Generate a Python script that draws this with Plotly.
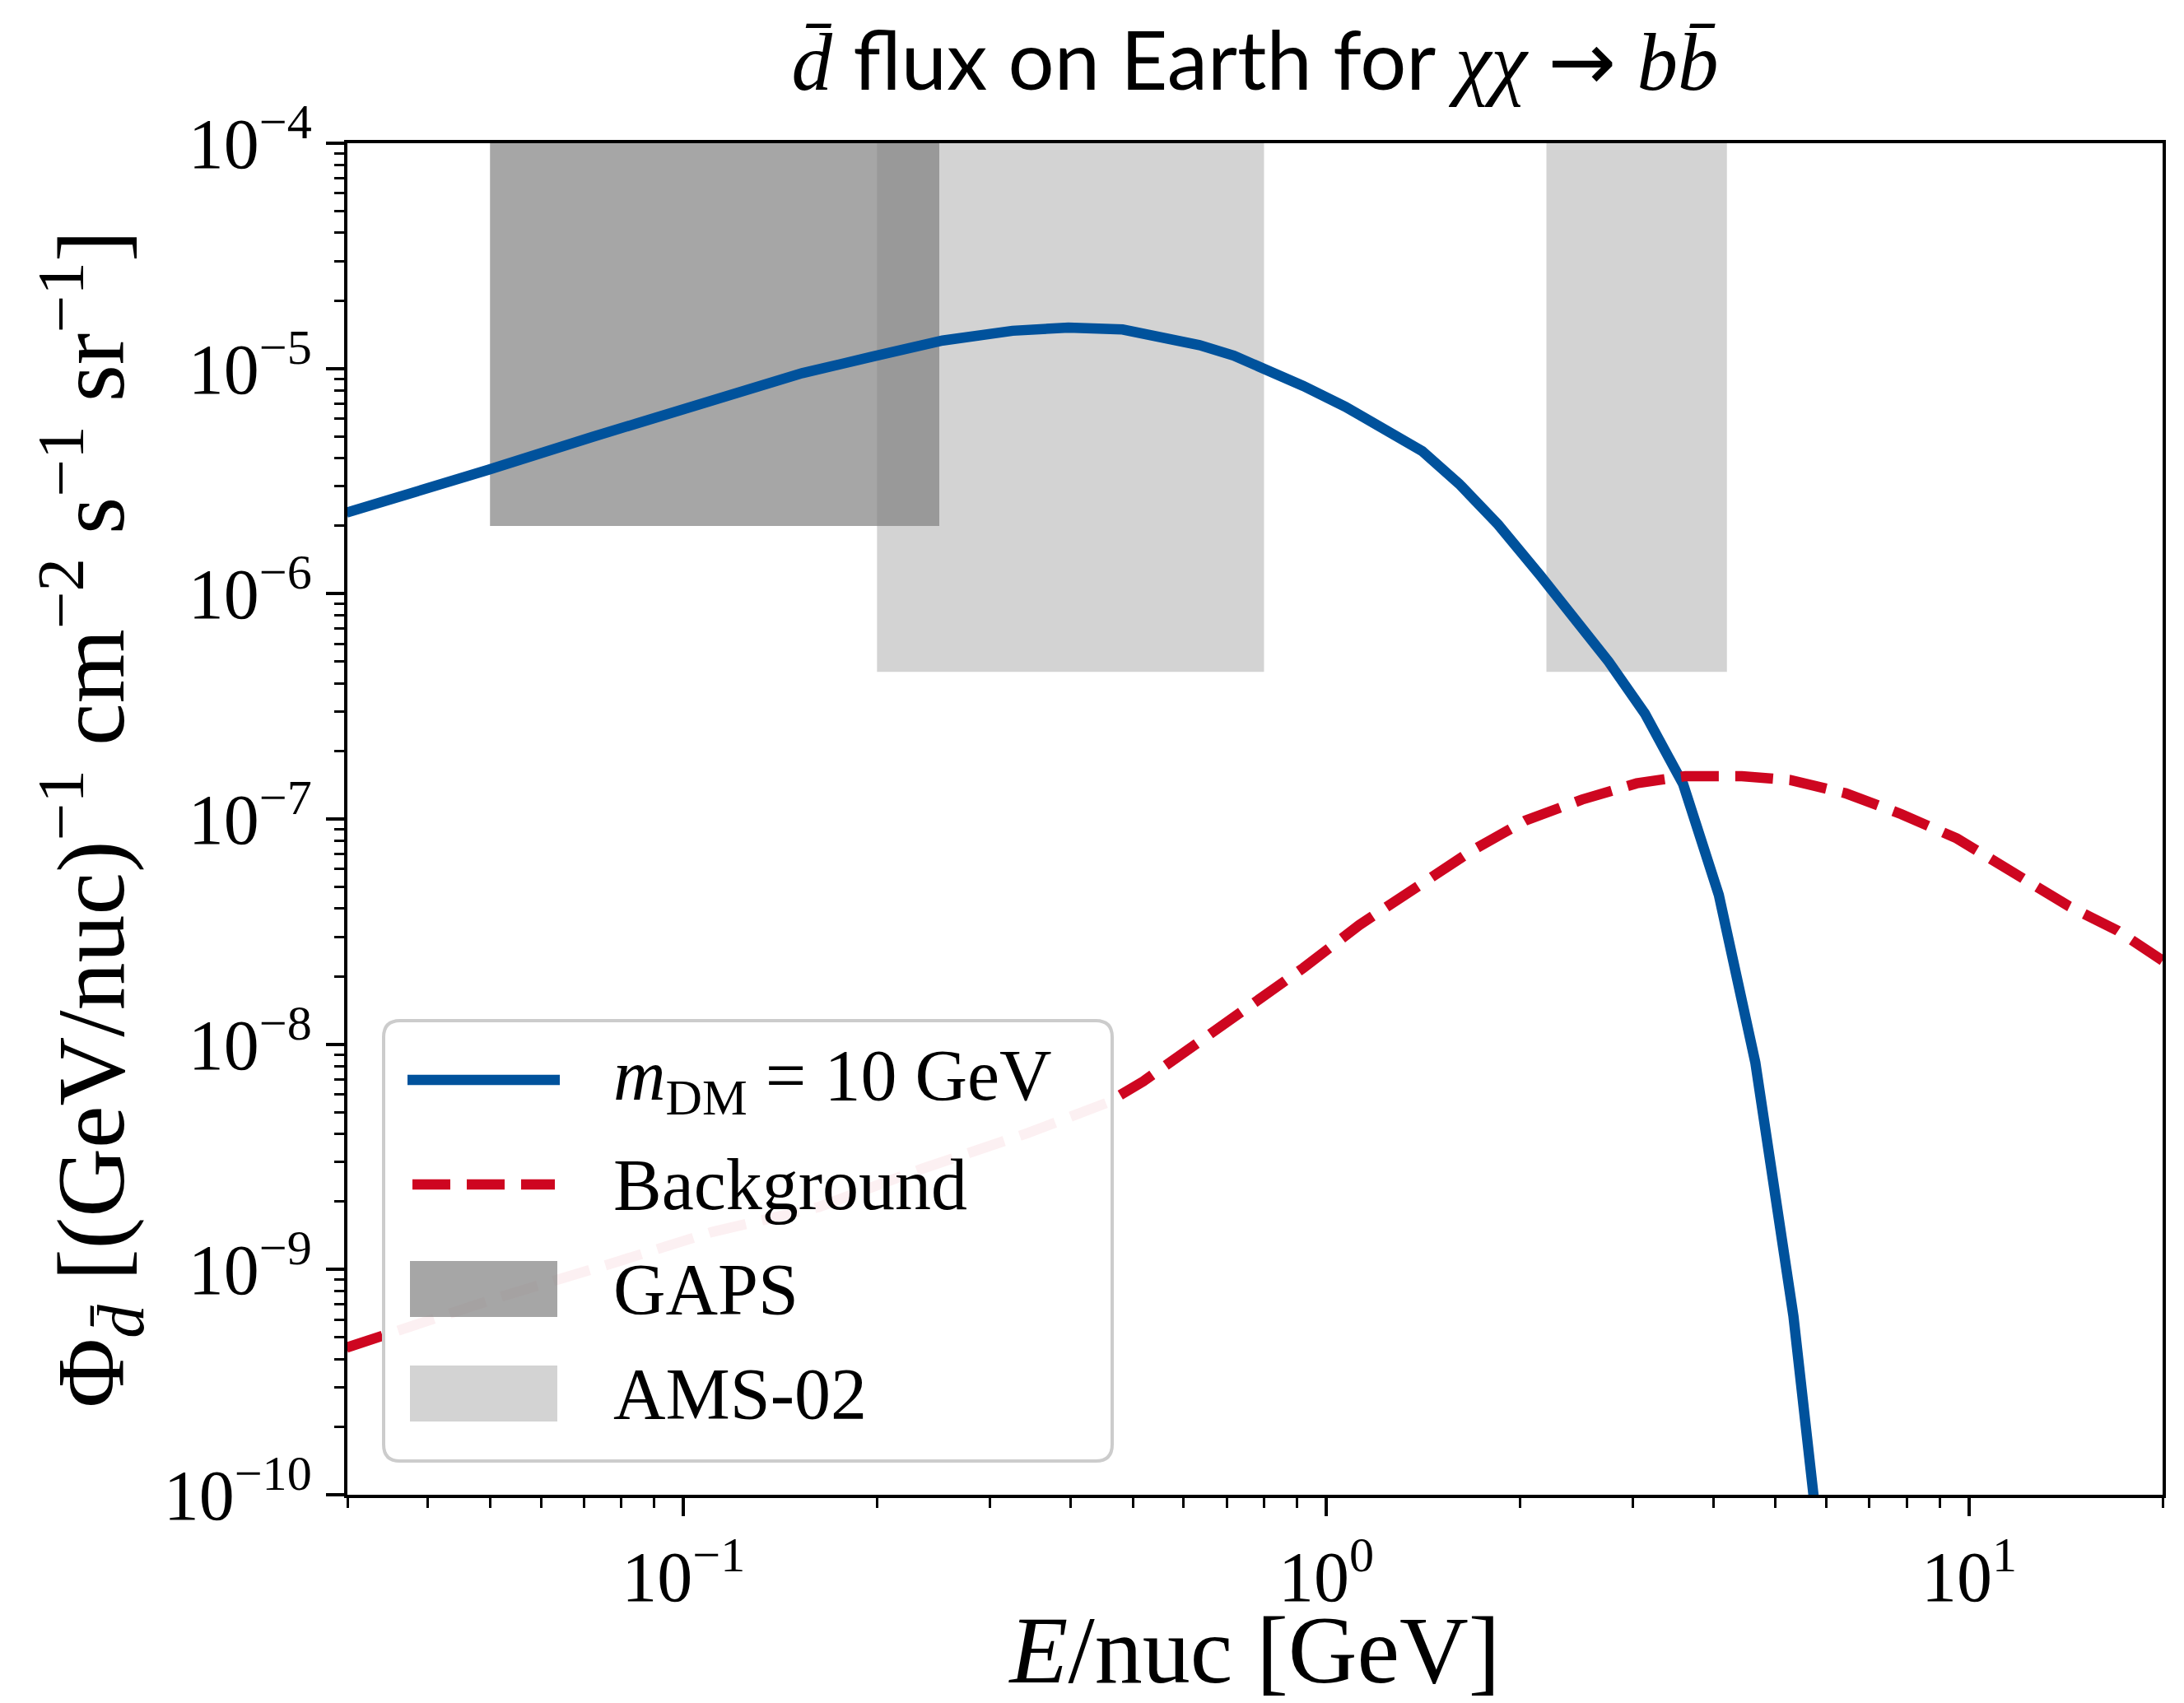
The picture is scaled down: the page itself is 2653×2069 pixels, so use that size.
import numpy as np
import plotly.graph_objects as go

# ---------------- data ----------------
E_dm = [0.0299, 0.0341, 0.0497, 0.0722, 0.105, 0.153, 0.197, 0.253, 0.325, 0.397,
        0.482, 0.559, 0.635, 0.718, 0.813, 0.921, 1.07, 1.21, 1.41, 1.61,
        1.85, 2.15, 2.43, 2.75, 3.13, 3.59, 4.08, 4.65, 5.33, 6.1]
flux_dm = [2.29e-6, 2.55e-6, 3.55e-6, 4.97e-6, 6.95e-6, 9.53e-6, 1.13e-5, 1.33e-5, 1.47e-5, 1.52e-5,
           1.49e-5, 1.38e-5, 1.27e-5, 1.14e-5, 9.9e-6, 8.36e-6, 6.77e-6, 5.53e-6, 4.3e-6, 3.07e-6,
           2.03e-6, 1.21e-6, 7.9e-7, 4.99e-7, 2.94e-7, 1.43e-7, 4.6e-8, 8.3e-9, 6.2e-10, 2.0e-11]

E_bg = [0.0299, 0.0359, 0.0522, 0.0762, 0.111, 0.162, 0.235, 0.343, 0.456, 0.519,
        0.634, 0.774, 0.921, 1.125, 1.37, 1.68, 2.04, 2.50, 3.04, 3.62,
        4.43, 5.27, 6.43, 7.85, 9.57, 11.7, 14.3, 17.0, 20.0]
flux_bg = [4.5e-10, 5.35e-10, 7.6e-10, 1.05e-9, 1.47e-9, 1.89e-9, 2.8e-9, 4.03e-9, 5.5e-9, 6.84e-9,
           1.03e-8, 1.50e-8, 2.18e-8, 3.38e-8, 4.93e-8, 7.2e-8, 9.84e-8, 1.22e-7, 1.44e-7, 1.55e-7,
           1.55e-7, 1.49e-7, 1.30e-7, 1.05e-7, 8.2e-8, 5.8e-8, 4.1e-8, 3.2e-8, 2.35e-8]

# experimental sensitivity regions: (E_min, E_max) and (flux_min, flux_max)
gaps_E = [0.05, 0.25]
gaps_flux = [2.0e-6, 1.0e-4]
ams_E = [[0.2, 0.8], [2.2, 4.2]]
ams_flux = [4.5e-7, 1.0e-4]

legend_labels = ["<i>m</i><sub>DM</sub> = 10 GeV", "Background", "GAPS", "AMS-02"]

x_range = [0.03, 20.0]
y_range = [1e-10, 1e-4]

x_tickvals = [0.1, 1, 10]
x_ticktext = ["10<sup>\u22121</sup>", "10<sup>0</sup>", "10<sup>1</sup>"]
y_tickvals = [1e-10, 1e-9, 1e-8, 1e-7, 1e-6, 1e-5, 1e-4]
y_ticktext = ["10<sup>\u2212%d</sup>" % k for k in [10, 9, 8, 7, 6, 5, 4]]

x_minor = [m * 10.0 ** d for d in range(-2, 2) for m in range(2, 10)]
x_minor = [v for v in x_minor if x_range[0] * 0.999 <= v <= x_range[1] * 1.001]
y_minor = [m * 10.0 ** d for d in range(-10, -4) for m in range(2, 10)]

BLUE = "#00529c"
RED = "#ce0620"
GAPS_C = "rgba(128,128,128,0.70)"
AMS_C = "rgba(128,128,128,0.35)"
SERIF = "Liberation Serif"
SANS = "Lato"
W, H = 2653, 2069
ML, MR, MT, MB = 422, 26, 174, 253
PW, PH = W - ML - MR, H - MT - MB


def box(e, f):
    return [e[0], e[1], e[1], e[0], e[0]], [f[0], f[0], f[1], f[1], f[0]]


# pixel -> paper helpers (for the legend furniture only)
def px(xp):
    return (xp - ML) / PW


def py(yp):
    return (H - MB - yp) / PH


fig = go.Figure()

for e in ams_E:
    bx, by = box(e, ams_flux)
    fig.add_trace(go.Scatter(x=bx, y=by, mode="lines", fill="toself", fillcolor=AMS_C,
                             line=dict(width=0), showlegend=False, hoverinfo="skip"))
bx, by = box(gaps_E, gaps_flux)
fig.add_trace(go.Scatter(x=bx, y=by, mode="lines", fill="toself", fillcolor=GAPS_C,
                         line=dict(width=0), showlegend=False, hoverinfo="skip"))

fig.add_trace(go.Scatter(x=E_dm, y=flux_dm, mode="lines", line=dict(color=BLUE, width=12.5),
                         name=legend_labels[0], showlegend=False))
fig.add_trace(go.Scatter(x=E_bg, y=flux_bg, mode="lines",
                         line=dict(color=RED, width=12.5, dash="46px,20px"),
                         name=legend_labels[1], showlegend=False))

axis_common = dict(
    type="log", showline=True, linewidth=4, linecolor="black", mirror=True,
    ticks="outside", ticklen=22, tickwidth=4, tickcolor="black",
    tickmode="array", showgrid=False, zeroline=False,
    tickfont=dict(family=SERIF, size=86, color="black"),
)

fig.update_xaxes(
    **axis_common,
    range=[np.log10(x_range[0]), np.log10(x_range[1])],
    tickvals=x_tickvals, ticktext=x_ticktext,
    minor=dict(tickmode="array", tickvals=x_minor, ticks="outside", ticklen=12,
               tickwidth=3, tickcolor="black", showgrid=False),
    title=dict(text="<i>E</i>/nuc [GeV]", font=dict(family=SERIF, size=116, color="black"),
               standoff=12),
)
fig.update_yaxes(
    **axis_common,
    range=[np.log10(y_range[0]), np.log10(y_range[1])],
    tickvals=y_tickvals, ticktext=y_ticktext,
    minor=dict(tickmode="array", tickvals=y_minor, ticks="outside", ticklen=12,
               tickwidth=3, tickcolor="black", showgrid=False),
    title=dict(text="\u03a6<sub><i>d\u0304</i></sub> [(GeV/nuc)<sup>\u22121</sup> cm<sup>\u22122</sup> "
                    "s<sup>\u22121</sup> sr<sup>\u22121</sup>]",
               font=dict(family=SERIF, size=116, color="black"), standoff=10),
)

# ---------------- legend (drawn as furniture: box, swatches, labels) ----------------
x0, x1, y0, y1 = px(466), px(1351), py(1775), py(1240)
rx, ry = 20 / PW, 20 / PH
legend_path = (f"M{x0+rx},{y1} L{x1-rx},{y1} Q{x1},{y1} {x1},{y1-ry} L{x1},{y0+ry} "
               f"Q{x1},{y0} {x1-rx},{y0} L{x0+rx},{y0} Q{x0},{y0} {x0},{y0+ry} "
               f"L{x0},{y1-ry} Q{x0},{y1} {x0+rx},{y1} Z")
shapes = [dict(type="path", path=legend_path, xref="paper", yref="paper", layer="above",
               fillcolor="rgba(255,255,255,0.94)", line=dict(color="#cccccc", width=4))]
rows = [1312, 1439, 1566, 1693]
shapes.append(dict(type="line", xref="paper", yref="paper", layer="above",
                   x0=px(495), x1=px(680), y0=py(rows[0]), y1=py(rows[0]),
                   line=dict(color=BLUE, width=12.5)))
shapes.append(dict(type="line", xref="paper", yref="paper", layer="above",
                   x0=px(501), x1=px(674), y0=py(rows[1]), y1=py(rows[1]),
                   line=dict(color=RED, width=12.5, dash="46px,20px")))
for r, c in [(rows[2], GAPS_C), (rows[3], AMS_C)]:
    shapes.append(dict(type="rect", xref="paper", yref="paper", layer="above",
                       x0=px(498), x1=px(677), y0=py(r + 34), y1=py(r - 34),
                       fillcolor=c, line=dict(width=0)))

annotations = []
for r, lab in zip(rows, legend_labels):
    annotations.append(dict(text=lab, xref="paper", yref="paper", x=px(743), y=py(r),
                            xanchor="left", yanchor="middle", showarrow=False,
                            font=dict(family=SERIF, size=88, color="black")))

title_text = ('<span style="font-family:\'Liberation Serif\'"><i>d\u0304</i></span> flux on Earth for '
              '<span style="font-family:\'Liberation Serif\'"><i>\u03c7\u03c7</i></span> '
              '<span style="font-family:\'DejaVu Sans\'">\u2192</span> '
              '<span style="font-family:\'Liberation Serif\'"><i>b</i><i>b\u0304</i></span>')

fig.update_layout(
    width=W, height=H,
    margin=dict(l=ML, r=MR, t=MT, b=MB, pad=0),
    paper_bgcolor="white", plot_bgcolor="white",
    title=dict(text=title_text, x=0.5, xref="paper", xanchor="center",
               y=1 - 74 / H, yref="container", yanchor="middle",
               font=dict(family=SANS, size=99, color="black")),
    shapes=shapes, annotations=annotations,
    showlegend=False,
)

fig.write_html("out.html")
